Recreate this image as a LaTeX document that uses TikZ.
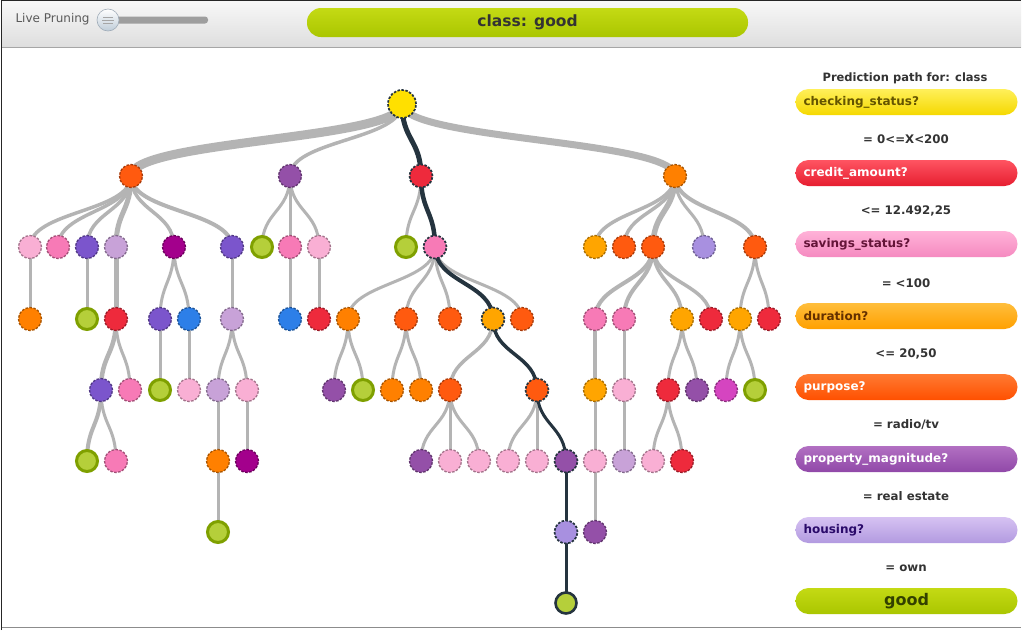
\documentclass[tikz,border=0pt]{standalone}
\usepackage{fontspec}
\setmainfont{DejaVu Sans}
\pgfdeclarelayer{back}
\pgfdeclarelayer{edges}
\pgfsetlayers{back,edges,main}
\definecolor{cyel}{HTML}{FFE000}
\definecolor{cored}{HTML}{FF5A0F}
\definecolor{coran}{HTML}{FF8000}
\definecolor{camber}{HTML}{FFA500}
\definecolor{cred}{HTML}{EE2A3C}
\definecolor{cpink}{HTML}{F77AB6}
\definecolor{clpink}{HTML}{F9AFD4}
\definecolor{cpurp}{HTML}{9450A8}
\definecolor{csblue}{HTML}{7B55CC}
\definecolor{clilac}{HTML}{C8A2D8}
\definecolor{clav}{HTML}{A890E0}
\definecolor{cdmag}{HTML}{A3008C}
\definecolor{cmag}{HTML}{D545C0}
\definecolor{cblue}{HTML}{2D7FE8}
\definecolor{cleaf}{HTML}{B5CF3A}
\definecolor{cleafb}{HTML}{7FA000}
\definecolor{cpath}{HTML}{25343F}
\definecolor{cedge}{HTML}{B4B4B4}
\tikzset{
  nd/.style={circle, minimum size=23pt, inner sep=0pt, fill=#1, draw=#1!65!black, line width=1.3pt, dash pattern=on 2.5pt off 1.5pt},
  leafnd/.style={circle, minimum size=21pt, inner sep=0pt, fill=cleaf, draw=cleafb, line width=3pt},
  pathb/.style={draw=cpath, line width=1.7pt},
  gedge/.style={draw=cedge, line width=#1},
  pedge/.style={draw=cpath, line width=#1},
  pill/.style={rectangle, rounded corners=13pt, minimum height=26pt, text width=206pt, inner xsep=8pt, align=left, font=\bfseries\fontsize{12}{14}\selectfont},
  cond/.style={font=\bfseries\fontsize{11.8}{14}\selectfont, text=black!80},
}
\newcommand\tedge[3][]{\draw[#1] (#2.center) .. controls +(0,36) and +(0,-36) .. (#3.center);}
\begin{document}
\begin{tikzpicture}[x=1pt,y=-1pt]
\useasboundingbox (0,0) rectangle (1023,630);
\begin{pgfonlayer}{back}
\fill[white] (0,0) rectangle (1023,630);
\shade[top color=black!3, bottom color=black!13] (2,1) rectangle (1021,47);
\draw[black!35, line width=1pt] (2,47.5) -- (1021,47.5);
\draw[black!85, line width=1.2pt] (1.6,630) -- (1.6,0.8) -- (1021,0.8);
\draw[black!45, line width=1pt] (1.6,627) -- (1021,627);
\end{pgfonlayer}
% header
\node[anchor=west, text=black!65, font=\fontsize{12}{14}\selectfont] (live) at (12,19) {Live Pruning};
\fill[black!38, rounded corners=3pt] (110,16.5) rectangle (208,23.5);
\node[circle, minimum size=22pt, inner sep=0pt, top color=white, bottom color={rgb,255:red,190;green,204;blue,216}, draw={rgb,255:red,160;green,172;blue,184}, line width=0.6pt] (knob) at (108,20) {};
\draw[black!35, line width=0.6pt] (103,17) -- (113,17) (102,20) -- (114,20) (103,23) -- (113,23);
\node[rectangle, rounded corners=14pt, minimum width=441pt, minimum height=29pt, top color={rgb,255:red,196;green,218;blue,20}, bottom color={rgb,255:red,170;green,198;blue,0}, text=black!80, font=\bfseries\fontsize{15.5}{17}\selectfont] (cls) at (527.5,22.5) {class: good};
% tree nodes
\node[nd=cyel, pathb, minimum size=28pt] (r) at (402,104) {};
\node[nd=cored] (a131) at (131,176) {};
\node[nd=cpurp] (a290) at (290,176) {};
\node[nd=cred, pathb] (a421) at (421,176) {};
\node[nd=coran] (a675) at (675,176) {};
\node[nd=clpink] (b30) at (30,247) {};
\node[nd=cpink] (b58) at (58,247) {};
\node[nd=csblue] (b87) at (87,247) {};
\node[nd=clilac] (b116) at (116,247) {};
\node[nd=cdmag] (b174) at (174,247) {};
\node[nd=csblue] (b232) at (232,247) {};
\node[leafnd] (b262) at (262,247) {};
\node[nd=cpink] (b290) at (290,247) {};
\node[nd=clpink] (b319) at (319,247) {};
\node[leafnd] (b406) at (406,247) {};
\node[nd=cpink, pathb] (b435) at (435,247) {};
\node[nd=camber] (b595) at (595,247) {};
\node[nd=cored] (b624) at (624,247) {};
\node[nd=cored] (b653) at (653,247) {};
\node[nd=clav] (b704) at (704,247) {};
\node[nd=cored] (b755) at (755,247) {};
\node[nd=coran] (c30) at (30,319) {};
\node[leafnd] (c87) at (87,319) {};
\node[nd=cred] (c116) at (116,319) {};
\node[nd=csblue] (c160) at (160,319) {};
\node[nd=cblue] (c189) at (189,319) {};
\node[nd=clilac] (c232) at (232,319) {};
\node[nd=cblue] (c290) at (290,319) {};
\node[nd=cred] (c319) at (319,319) {};
\node[nd=coran] (c348) at (348,319) {};
\node[nd=cored] (c406) at (406,319) {};
\node[nd=cored] (c450) at (450,319) {};
\node[nd=camber, pathb] (c493) at (493,319) {};
\node[nd=cored] (c522) at (522,319) {};
\node[nd=cpink] (c595) at (595,319) {};
\node[nd=cpink] (c624) at (624,319) {};
\node[nd=camber] (c682) at (682,319) {};
\node[nd=cred] (c711) at (711,319) {};
\node[nd=camber] (c740) at (740,319) {};
\node[nd=cred] (c769) at (769,319) {};
\node[nd=csblue] (d101) at (101,390) {};
\node[nd=cpink] (d130) at (130,390) {};
\node[leafnd] (d160) at (160,390) {};
\node[nd=clpink] (d189) at (189,390) {};
\node[nd=clilac] (d218) at (218,390) {};
\node[nd=clpink] (d247) at (247,390) {};
\node[nd=cpurp] (d334) at (334,390) {};
\node[leafnd] (d363) at (363,390) {};
\node[nd=coran] (d392) at (392,390) {};
\node[nd=coran] (d421) at (421,390) {};
\node[nd=cored] (d450) at (450,390) {};
\node[nd=cored, pathb] (d537) at (537,390) {};
\node[nd=camber] (d595) at (595,390) {};
\node[nd=clpink] (d624) at (624,390) {};
\node[nd=cred] (d668) at (668,390) {};
\node[nd=cpurp] (d697) at (697,390) {};
\node[nd=cmag] (d726) at (726,390) {};
\node[leafnd] (d755) at (755,390) {};
\node[leafnd] (e87) at (87,461) {};
\node[nd=cpink] (e116) at (116,461) {};
\node[nd=coran] (e218) at (218,461) {};
\node[nd=cdmag] (e247) at (247,461) {};
\node[nd=cpurp] (e421) at (421,461) {};
\node[nd=clpink] (e450) at (450,461) {};
\node[nd=clpink] (e479) at (479,461) {};
\node[nd=clpink] (e508) at (508,461) {};
\node[nd=clpink] (e537) at (537,461) {};
\node[nd=cpurp, pathb] (e566) at (566,461) {};
\node[nd=clpink] (e595) at (595,461) {};
\node[nd=clilac] (e624) at (624,461) {};
\node[nd=clpink] (e653) at (653,461) {};
\node[nd=cred] (e682) at (682,461) {};
\node[leafnd] (f218) at (218,532) {};
\node[nd=clav, pathb] (f566) at (566,532) {};
\node[nd=cpurp] (f595) at (595,532) {};
\node[leafnd, draw=cpath, line width=2.6pt] (g566) at (566,603) {};
% edges
\begin{pgfonlayer}{edges}
\tedge[gedge=9pt]{r}{a131}
\tedge[gedge=3.5pt]{r}{a290}
\tedge[gedge=7pt]{r}{a675}
\tedge[gedge=3.5pt]{a131}{b30}
\tedge[gedge=3.5pt]{a131}{b58}
\tedge[gedge=3.5pt]{a131}{b87}
\tedge[gedge=5pt]{a131}{b116}
\tedge[gedge=3.5pt]{a131}{b174}
\tedge[gedge=4pt]{a131}{b232}
\tedge[gedge=3pt]{a290}{b262}
\tedge[gedge=3pt]{a290}{b290}
\tedge[gedge=3pt]{a290}{b319}
\tedge[gedge=3pt]{a421}{b406}
\tedge[gedge=3.5pt]{a675}{b595}
\tedge[gedge=3.5pt]{a675}{b624}
\tedge[gedge=5.5pt]{a675}{b653}
\tedge[gedge=3pt]{a675}{b704}
\tedge[gedge=4pt]{a675}{b755}
\tedge[gedge=3pt]{b30}{c30}
\tedge[gedge=3pt]{b87}{c87}
\tedge[gedge=5pt]{b116}{c116}
\tedge[gedge=3pt]{b174}{c160}
\tedge[gedge=3pt]{b174}{c189}
\tedge[gedge=3pt]{b232}{c232}
\tedge[gedge=3pt]{b290}{c290}
\tedge[gedge=3pt]{b319}{c319}
\tedge[gedge=3pt]{b435}{c348}
\tedge[gedge=3pt]{b435}{c406}
\tedge[gedge=3pt]{b435}{c450}
\tedge[gedge=3pt]{b435}{c522}
\tedge[gedge=4pt]{b653}{c595}
\tedge[gedge=4pt]{b653}{c624}
\tedge[gedge=3.5pt]{b653}{c682}
\tedge[gedge=3.5pt]{b653}{c711}
\tedge[gedge=3pt]{b755}{c740}
\tedge[gedge=3pt]{b755}{c769}
\tedge[gedge=4.5pt]{c116}{d101}
\tedge[gedge=3pt]{c116}{d130}
\tedge[gedge=3pt]{c160}{d160}
\tedge[gedge=3pt]{c189}{d189}
\tedge[gedge=3pt]{c232}{d218}
\tedge[gedge=3pt]{c232}{d247}
\tedge[gedge=3pt]{c348}{d334}
\tedge[gedge=3pt]{c348}{d363}
\tedge[gedge=3pt]{c406}{d392}
\tedge[gedge=3pt]{c406}{d421}
\tedge[gedge=3.5pt]{c493}{d450}
\tedge[gedge=3.5pt]{c595}{d595}
\tedge[gedge=3pt]{c624}{d624}
\tedge[gedge=3pt]{c682}{d668}
\tedge[gedge=3pt]{c682}{d697}
\tedge[gedge=3pt]{c740}{d726}
\tedge[gedge=3pt]{c740}{d755}
\tedge[gedge=4pt]{d101}{e87}
\tedge[gedge=3pt]{d101}{e116}
\tedge[gedge=3pt]{d218}{e218}
\tedge[gedge=3pt]{d247}{e247}
\tedge[gedge=3pt]{d450}{e421}
\tedge[gedge=3pt]{d450}{e450}
\tedge[gedge=3pt]{d450}{e479}
\tedge[gedge=3pt]{d537}{e508}
\tedge[gedge=3pt]{d537}{e537}
\tedge[gedge=3pt]{d595}{e595}
\tedge[gedge=3pt]{d624}{e624}
\tedge[gedge=3pt]{d668}{e653}
\tedge[gedge=3pt]{d668}{e682}
\tedge[gedge=3pt]{e218}{f218}
\tedge[gedge=3pt]{e595}{f595}
\tedge[pedge=5pt]{r}{a421}
\tedge[pedge=4.5pt]{a421}{b435}
\tedge[pedge=4pt]{b435}{c493}
\tedge[pedge=3.5pt]{c493}{d537}
\tedge[pedge=3pt]{d537}{e566}
\tedge[pedge=3pt]{e566}{f566}
\tedge[pedge=3pt]{f566}{g566}
\end{pgfonlayer}
% sidebar
\node[font=\bfseries\fontsize{11.5}{13}\selectfont, text=black!80] (ttl) at (905,78) {Prediction path for: class};
\node[pill, top color={rgb,255:red,255;green,240;blue,90}, bottom color={rgb,255:red,245;green,216;blue,0}, text={rgb,255:red,100;green,84;blue,0}] (p1) at (906.5,102) {checking\_status?};
\node[cond] (k1) at (906,139) {= 0<=X<200};
\node[pill, top color={rgb,255:red,255;green,84;blue,98}, bottom color={rgb,255:red,230;green,30;blue,48}, text=white] (p2) at (906.5,173) {credit\_amount?};
\node[cond] (k2) at (906,211) {<= 12.492,25};
\node[pill, top color={rgb,255:red,255;green,178;blue,216}, bottom color={rgb,255:red,245;green,138;blue,192}, text={rgb,255:red,100;green,20;blue,56}] (p3) at (906.5,244) {savings\_status?};
\node[cond] (k3) at (906,283) {= <100};
\node[pill, top color={rgb,255:red,255;green,190;blue,60}, bottom color={rgb,255:red,255;green,160;blue,0}, text={rgb,255:red,100;green,48;blue,0}] (p4) at (906.5,316) {duration?};
\node[cond] (k4) at (906,354) {<= 20,50};
\node[pill, top color={rgb,255:red,255;green,122;blue,50}, bottom color={rgb,255:red,255;green,80;blue,0}, text=white] (p5) at (906.5,387) {purpose?};
\node[cond] (k5) at (906,425) {= radio/tv};
\node[pill, top color={rgb,255:red,178;green,112;blue,194}, bottom color={rgb,255:red,144;green,72;blue,168}, text=white] (p6) at (906.5,459) {property\_magnitude?};
\node[cond] (k6) at (906,496) {= real estate};
\node[pill, top color={rgb,255:red,214;green,194;blue,242}, bottom color={rgb,255:red,178;green,154;blue,224}, text={rgb,255:red,42;green,10;blue,106}] (p7) at (906.5,530) {housing?};
\node[cond] (k7) at (906,568) {= own};
\node[pill, align=center, top color={rgb,255:red,196;green,218;blue,20}, bottom color={rgb,255:red,170;green,198;blue,0}, text={rgb,255:red,50;green,64;blue,0}, font=\bfseries\fontsize{16}{18}\selectfont] (p8) at (906.5,601) {good};
\end{tikzpicture}
\end{document}
